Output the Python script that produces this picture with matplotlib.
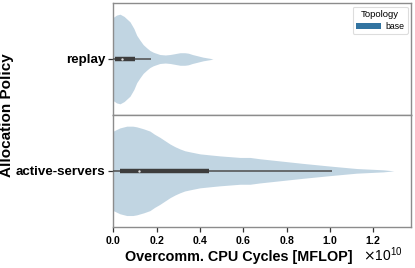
import matplotlib
matplotlib.use("Agg")
import matplotlib.pyplot as plt
from matplotlib.patches import Patch
from matplotlib.ticker import ScalarFormatter
import numpy as np

plt.rcParams['font.family'] = ['Liberation Sans', 'DejaVu Sans']

SCALE = 1e10  # values below are in units of 1e10 MFLOP

policies = ["replay", "active-servers"]

# violin outline: position and relative half-width
replay_x = [0.000, 0.015, 0.031, 0.050, 0.077, 0.095, 0.108, 0.123, 0.138, 0.154,
            0.169, 0.185, 0.215, 0.240, 0.262, 0.285, 0.308, 0.330, 0.346, 0.365,
            0.385, 0.415, 0.446, 0.460]
replay_w = [0.93, 0.98, 1.00, 0.95, 0.83, 0.68, 0.53, 0.42, 0.32, 0.25,
            0.19, 0.15, 0.10, 0.09, 0.10, 0.12, 0.14, 0.14, 0.13, 0.10,
            0.076, 0.04, 0.015, 0.0]

active_x = [0.000, 0.030, 0.062, 0.090, 0.108, 0.140, 0.169, 0.190, 0.215, 0.240,
            0.262, 0.285, 0.308, 0.330, 0.354, 0.400, 0.450, 0.492, 0.585, 0.631,
            0.677, 0.754, 0.877, 1.000, 1.123, 1.246, 1.295]
active_w = [0.89, 0.96, 1.00, 1.00, 0.985, 0.94, 0.89, 0.82, 0.75, 0.67,
            0.60, 0.54, 0.49, 0.45, 0.425, 0.38, 0.355, 0.335, 0.30, 0.30,
            0.27, 0.23, 0.166, 0.107, 0.052, 0.023, 0.0]

# inner box: whisker low, q1, median, q3, whisker high
replay_box = [0.0, 0.008, 0.039, 0.100, 0.172]
active_box = [0.0, 0.031, 0.120, 0.443, 1.008]

profiles = {
    "replay": (replay_x, replay_w, replay_box),
    "active-servers": (active_x, active_w, active_box),
}

topology = "base"
base_color = "#3274a1"

W, H = 415, 268
fig = plt.figure(figsize=(W / 100, H / 100), dpi=100)

left, right = 113.3 / W, 411 / W
top_px, mid_px, bot_px = 3, 115, 226.7
axes = [
    fig.add_axes([left, 1 - mid_px / H, right - left, (mid_px - top_px) / H]),
    fig.add_axes([left, 1 - bot_px / H, right - left, (bot_px - mid_px) / H]),
]

for ax, name in zip(axes, policies):
    xs, ws, box = profiles[name]
    xs = np.array(xs) * SCALE
    half = np.array(ws) * 0.4
    ax.fill_between(xs, -half, half, color=base_color, alpha=0.3, linewidth=0)
    lo, q1, med, q3, hi = [v * SCALE for v in box]
    ax.plot([lo, hi], [0, 0], color="#4d4d4d", lw=1.1, solid_capstyle="butt", zorder=3)
    ax.plot([q1, q3], [0, 0], color="#3d3d3d", lw=3.2, solid_capstyle="butt", zorder=4)
    ax.scatter([med], [0], s=3, color="#dddddd", zorder=5, linewidths=0)

    ax.set_ylim(0.5, -0.5)
    ax.set_yticks([0])
    ax.set_yticklabels([name], fontsize=9.6, fontweight="bold")
    ax.set_xlim(0, 1.374 * SCALE)
    for sp in ax.spines.values():
        sp.set_color("#8c8c8c")
        sp.set_linewidth(1.0)
    ax.tick_params(axis="y", length=3.5, width=0.9, pad=2, color="#333333")
    ax.tick_params(axis="x", length=3.5, width=0.9, pad=2, color="#333333")

axes[0].set_xticks([])
axes[0].tick_params(axis="x", length=0)

ax = axes[1]
ax.set_xticks(np.arange(0, 1.21, 0.2) * SCALE)
fmt = ScalarFormatter(useMathText=True)
ax.xaxis.set_major_formatter(fmt)
for lbl in ax.get_xticklabels():
    lbl.set_fontsize(7.6)
    lbl.set_fontweight("bold")
# the exponent is drawn next to the label, on its baseline
ax.xaxis.get_offset_text().set_visible(False)
fig.text(363 / W, 1 - 261.5 / H, r"$\times\mathdefault{10^{10}}$",
         fontsize=10, ha="left", va="baseline")

fig.text(239 / W, 1 - 261 / H, "Overcomm. CPU Cycles [MFLOP]",
         fontsize=10.4, fontweight="bold", ha="center", va="baseline")
fig.text(7 / W, 1 - 115 / H, "Allocation Policy", fontsize=11,
         fontweight="bold", rotation=90, ha="center", va="center")

leg = axes[0].legend(handles=[Patch(facecolor=base_color, edgecolor="none")],
                     labels=[topology], title="Topology", loc="upper right",
                     fontsize=6.3, title_fontsize=6.8, handlelength=2.8,
                     handleheight=0.7, borderpad=0.4, labelspacing=0.3,
                     handletextpad=0.5, borderaxespad=0.4, framealpha=1)
leg.get_frame().set_edgecolor("#dddddd")
leg.get_frame().set_linewidth(0.8)

fig.savefig("out.png", dpi=100)
